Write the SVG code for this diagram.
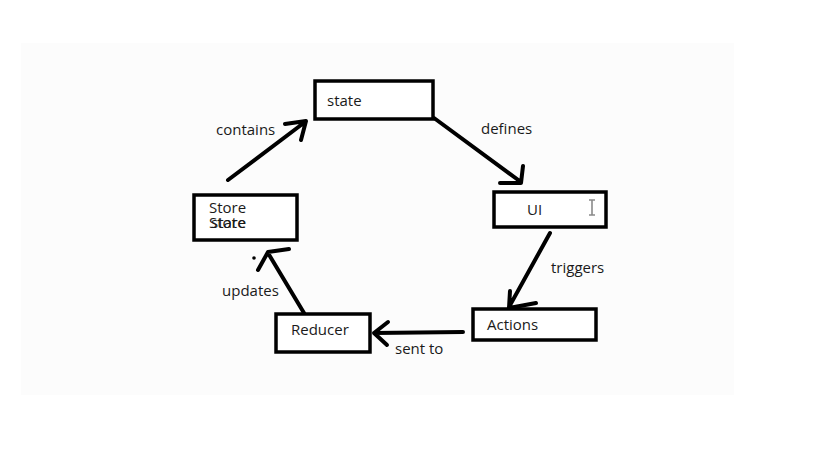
<svg xmlns="http://www.w3.org/2000/svg" width="819" height="460" viewBox="0 0 819 460">
<style>
.box{fill:#ffffff;stroke:#000;stroke-width:3.5}
.t{font-family:"Open Sans","Liberation Sans",sans-serif;font-size:15px;fill:#1a1a1a}
.c{fill:none;stroke:#000;stroke-width:4;stroke-linecap:round;stroke-linejoin:round}
</style>
<rect x="0" y="0" width="819" height="460" fill="#ffffff"/>
<rect x="21" y="43" width="713" height="352" fill="#fcfcfc"/>
<g id="connectors">
<g id="contains"><path class="c" d="M228,180 L305,122 M285,124 L306,121 L301,140"/><text class="t" x="216" y="135">contains</text></g>
<g id="defines"><path class="c" d="M434,118 L521,182 M500,183 L521,183 L523,166"/><text class="t" x="481" y="134">defines</text></g>
<g id="triggers"><path class="c" d="M550,233 L509,307 M536,303 L509,308 L510,291"/><text class="t" x="551" y="273">triggers</text></g>
<g id="sentto"><path class="c" d="M463,332 L374,333 M388,322 L374,333 L387,345"/><text class="t" x="395" y="354">sent to</text></g>
<g id="updates"><path class="c" d="M304,313 L268,253 M289,249 L268,252 L258,270"/><circle cx="254" cy="258" r="1.8" fill="#000"/><text class="t" x="222" y="296">updates</text></g>
</g>
<g id="state"><rect class="box" x="315" y="81" width="118" height="38"/><text class="t" x="327" y="106">state</text></g>
<g id="ui"><rect class="box" x="494" y="192" width="112" height="35"/><text class="t" x="527" y="215">UI</text>
<path d="M589,200 h6 M592,200 v15 M589,215 h6" fill="none" stroke="#8a8a8a" stroke-width="1.6"/></g>
<g id="actions"><rect class="box" x="473" y="309" width="123" height="31"/><text class="t" x="487" y="330">Actions</text></g>
<g id="reducer"><rect class="box" x="276" y="314" width="94" height="38"/><text class="t" x="291" y="335">Reducer</text></g>
<g id="store"><rect class="box" x="194" y="195" width="103" height="45"/><text class="t" x="209" y="213">Store</text><text class="t" x="209" y="228">Store</text><text class="t" x="211" y="228">state</text></g>
</svg>
